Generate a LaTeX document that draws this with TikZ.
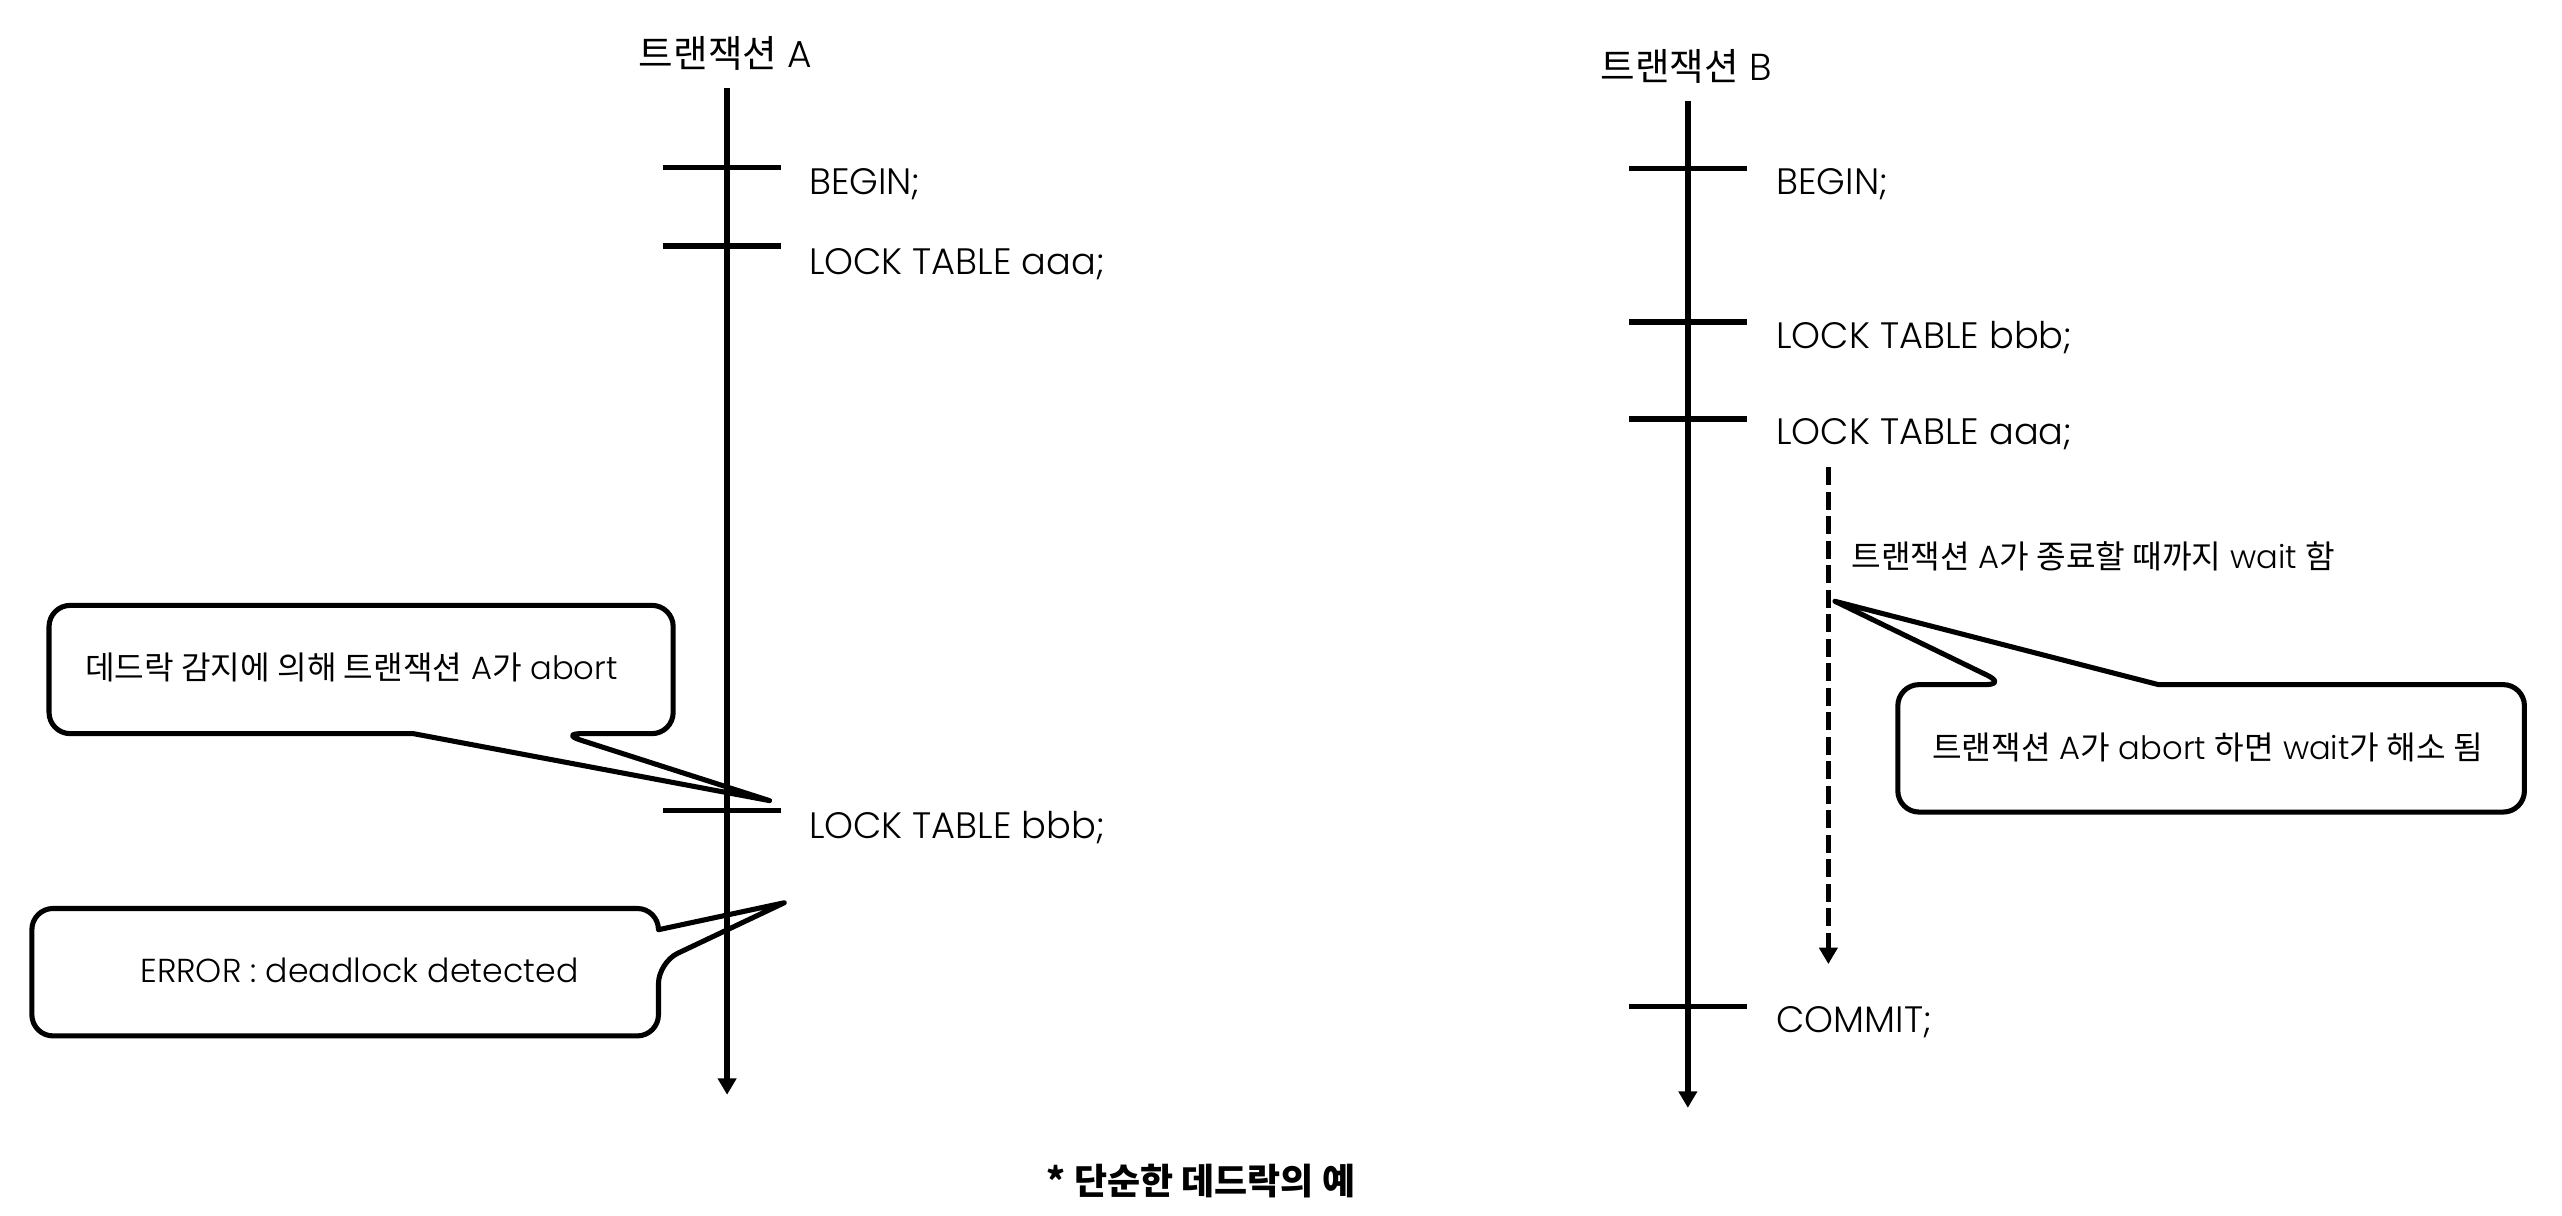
\documentclass[tikz,border=0pt]{standalone}
\usepackage{fontspec}
\setmainfont{Poppins}[UprightFont=* Light]
\newfontfamily\kr{Noto Sans CJK KR}
\usetikzlibrary{arrows.meta}
\begin{document}
\begin{tikzpicture}[x=1pt,y=-1pt,
  lifeline/.style={line width=3.4pt,-{Triangle[width=11pt,length=10pt]}},
  tickmark/.style={line width=3.4pt},
  waitline/.style={line width=3.1pt,dash pattern=on 11pt off 4pt,-{Triangle[width=11pt,length=10pt]}},
  callout/.style={line width=3.1pt,line join=round},
  lbl/.style={anchor=base west,inner sep=0pt,font=\fontsize{22.5}{27}\selectfont},
  ttl/.style={anchor=base,inner sep=0pt,font=\fontsize{23}{27}\selectfont},
  note/.style={inner sep=0pt,font=\fontsize{19.7}{23}\selectfont}
]
\useasboundingbox (0,0) rectangle (1568,744);

% titles
\node[ttl] (tA) at (444,41.6) {{\kr 트랜잭션} A};
\node[ttl] (tB) at (1032,49) {{\kr 트랜잭션} B};

% lifelines
\coordinate (A0) at (445,54);  \coordinate (A1) at (445,670);
\coordinate (B0) at (1033,62); \coordinate (B1) at (1033,678);
\coordinate (W0) at (1119,286); \coordinate (W1) at (1119,590);
\draw[lifeline] (A0) -- (A1);
\draw[lifeline] (B0) -- (B1);
\draw[waitline] (W0) -- (W1);

% ticks A
\draw[tickmark] (406,102.5) -- (478,102.5);
\draw[tickmark] (406,150.5) -- (478,150.5);
\draw[tickmark] (406,496) -- (478,496);
% ticks B
\draw[tickmark] (997,103) -- (1069,103);
\draw[tickmark] (997,197) -- (1069,197);
\draw[tickmark] (997,256.5) -- (1069,256.5);
\draw[tickmark] (997,616) -- (1069,616);

% labels A
\node[lbl] (a1) at (495,119) {BEGIN;};
\node[lbl] (a2) at (495,168) {LOCK TABLE aaa;};
\node[lbl] (a3) at (495,513) {LOCK TABLE bbb;};
% labels B
\node[lbl] (b1) at (1087,119) {BEGIN;};
\node[lbl] (b2) at (1087,213) {LOCK TABLE bbb;};
\node[lbl] (b3) at (1087,272) {LOCK TABLE aaa;};
\node[lbl] (b4) at (1087,632) {COMMIT;};

% wait text
\node[note,anchor=base west] (w) at (1133,348) {{\kr 트랜잭션} A{\kr 가 종료할 때까지} wait {\kr 함}};

% callout 1
\draw[callout] (343,449) [sharp corners] -- (471,490) -- (253,449)
  [rounded corners=13pt] -- (30,449) -- (30,370.5) -- (412,370.5) -- (412,449) -- cycle;
\node[note,anchor=base west] (c1) at (52,416) {{\kr 데드락 감지에 의해 트랜잭션} A{\kr 가} abort};

% callout 3
\draw[callout] (403,589) [sharp corners] -- (480,552.5) -- (403,569)
  [rounded corners=13pt] -- (403,556) -- (19.5,556) -- (19.5,634) -- (403,634) -- cycle;
\node[note,anchor=base,font=\fontsize{20.3}{24}\selectfont] (c3) at (220,601) {ERROR : deadlock detected};

% callout 2
\draw[callout] (1228,419) [sharp corners] -- (1123,368) -- (1321,419)
  [rounded corners=13pt] -- (1545,419) -- (1545,497) -- (1161.5,497) -- (1161.5,419) -- cycle;
\node[note,anchor=base] (c2) at (1351,465) {{\kr 트랜잭션} A{\kr 가} abort {\kr 하면} wait{\kr 가 해소 됨}};

% caption
\node[inner sep=0pt,anchor=base,font=\kr\bfseries\fontsize{22}{26}\selectfont] (cap) at (735,731) {* 단순한 데드락의 예};
\end{tikzpicture}
\end{document}
